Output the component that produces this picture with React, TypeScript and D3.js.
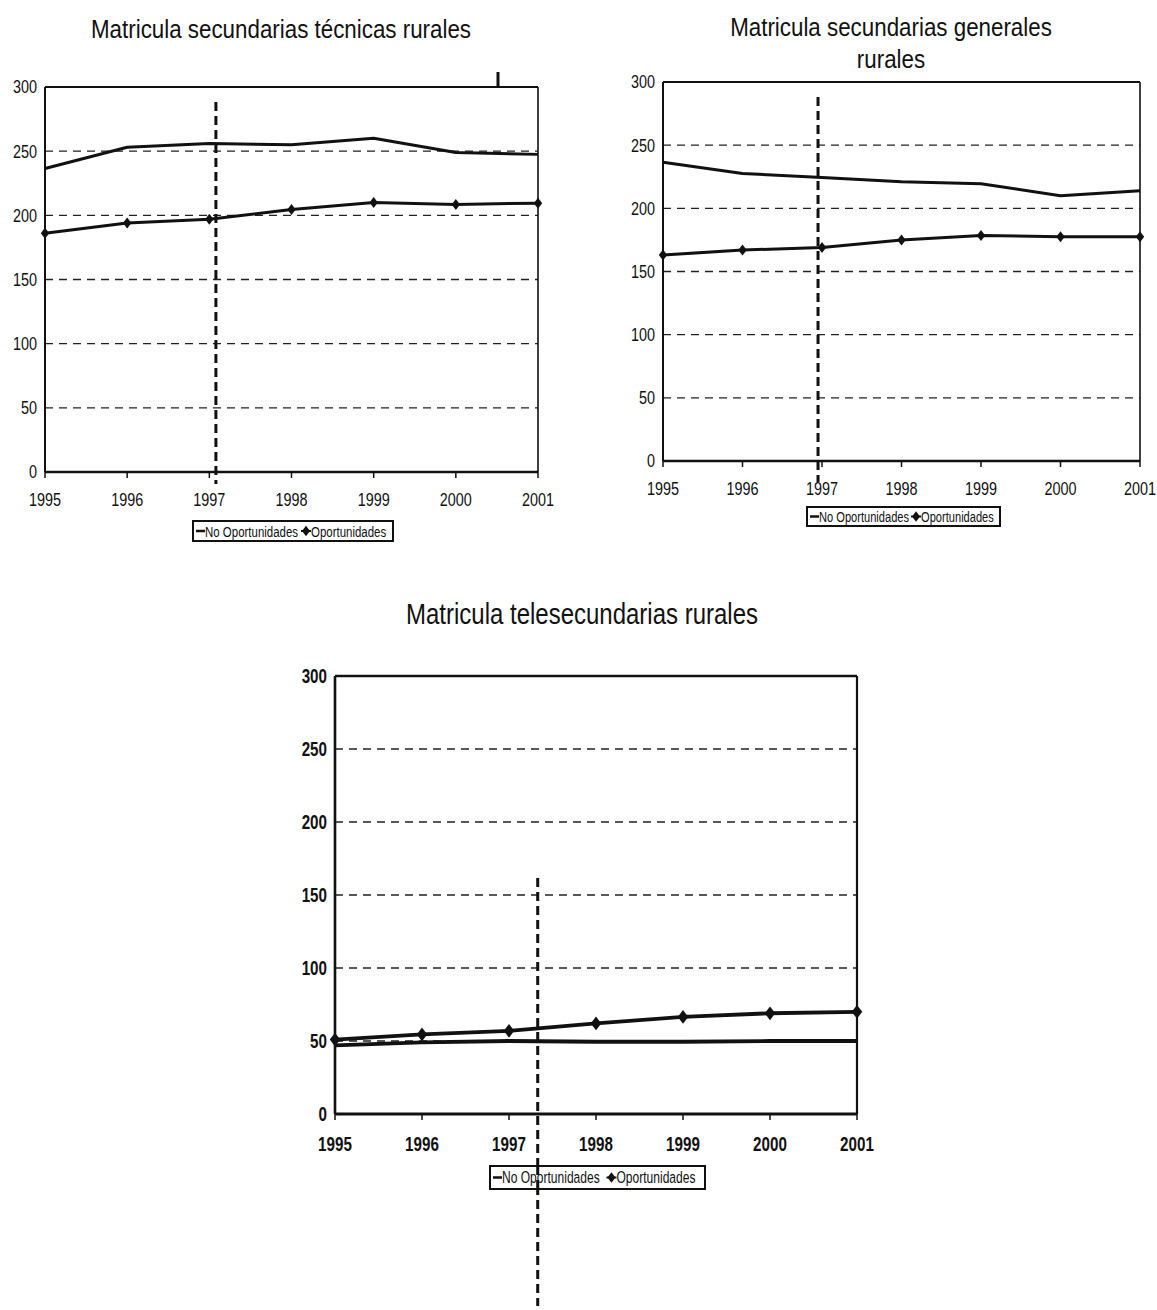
import React from 'react';
import * as d3 from 'd3';

const years = [1995, 1996, 1997, 1998, 1999, 2000, 2001];
const yTicks = [0, 50, 100, 150, 200, 250, 300];
const gridTicks = [50, 100, 150, 200, 250];
const legendLabels = ['No Oportunidades', 'Oportunidades'];

const tecnicasNo = [236.5, 253, 256, 255, 260, 249, 247.5];
const tecnicasOp = [186, 194, 197, 204.5, 210, 208.5, 209.5];
const generalesNo = [236.5, 227.5, 224.5, 221, 219.5, 210, 214];
const generalesOp = [163, 167, 169, 175, 178.5, 177.5, 177.5];
const teleNo = [47, 49, 50, 49.5, 49.5, 50, 50];
const teleOp = [51, 54.5, 57, 62, 66.5, 69, 70];
const programStart = [1997.08, 1996.95, 1997.33];

const titleTecnicas = ['Matricula secundarias técnicas rurales'];
const titleGenerales = ['Matricula secundarias generales', 'rurales'];
const titleTele = ['Matricula telesecundarias rurales'];

const FONT = "'Liberation Sans', Arial, sans-serif";

function NText(props: { x: number; y: number; anchor?: string; size: number; sx: number; weight?: string; children: any }) {
  return (
    <text transform={`translate(${props.x},${props.y}) scale(${props.sx},1)`} textAnchor={props.anchor || 'start'}
      fontFamily={FONT} fontSize={props.size} fontWeight={props.weight || 'normal'} fill="#111">{props.children}</text>
  );
}

type PanelProps = {
  title: string[];
  titleX: number;
  titleY: number[];
  titleSize: number; titleSx: number;
  x0: number; x1: number; yTop: number; yBottom: number;
  noData: number[]; opData: number[];
  vYear: number; vTop: number; vBottom: number;
  legendX: number; legendY: number; legendW: number; legendH: number; legendSize: number; legendSx: number;
  tickSize: number; tickSx: number; bold: boolean; labelOffset: number; lineW: number; frameW: number; markerScale: number;
};

function Panel(p: PanelProps) {
  const x = d3.scaleLinear().domain([1995, 2001]).range([p.x0, p.x1]);
  const y = d3.scaleLinear().domain([0, 300]).range([p.yBottom, p.yTop]);
  const line = d3.line<number>().x((_, i) => x(years[i])).y(d => y(d));
  const weight = p.bold ? 'bold' : 'normal';
  const diamond = 'M0,-5.5L4.2,0L0,5.5L-4.2,0Z';
  const lx = p.legendX;
  const ly = p.legendY + p.legendH / 2;
  const second = lx + p.legendW * 0.565;
  return (
    <g>
      {p.title.map((t, i) => (
        <NText key={i} x={p.titleX} y={p.titleY[i]} anchor="middle" size={p.titleSize} sx={p.titleSx}>{t}</NText>
      ))}
      {gridTicks.map(v => (
        <line key={v} x1={p.x0} x2={p.x1} y1={y(v)} y2={y(v)} stroke="#222" strokeWidth={1.4} strokeDasharray="8,6" />
      ))}
      <line x1={p.x0} x2={p.x1} y1={y(300)} y2={y(300)} stroke="#111" strokeWidth={p.frameW} />
      <line x1={p.x1} x2={p.x1} y1={y(300)} y2={y(0)} stroke="#111" strokeWidth={p.frameW - 0.4} />
      <line x1={p.x0} x2={p.x0} y1={y(300)} y2={y(0)} stroke="#111" strokeWidth={p.frameW} />
      <line x1={p.x0} x2={p.x1} y1={y(0)} y2={y(0)} stroke="#111" strokeWidth={p.frameW + 0.5} />
      {years.map(yr => (
        <g key={yr}>
          <line x1={x(yr)} x2={x(yr)} y1={y(0)} y2={y(0) + 6} stroke="#111" strokeWidth={1.5} />
          <NText x={x(yr)} y={y(0) + p.labelOffset} anchor="middle" size={p.tickSize} sx={p.tickSx} weight={weight}>{yr}</NText>
        </g>
      ))}
      {yTicks.map(v => (
        <NText key={v} x={p.x0 - 8} y={y(v) + p.tickSize * 0.36} anchor="end" size={p.tickSize} sx={p.tickSx} weight={weight}>{v}</NText>
      ))}
      <path d={line(p.noData) || ''} fill="none" stroke="#111" strokeWidth={p.lineW} strokeLinejoin="round" />
      <path d={line(p.opData) || ''} fill="none" stroke="#111" strokeWidth={p.lineW} strokeLinejoin="round" />
      {p.opData.map((d, i) => (
        <path key={i} d={diamond} transform={`translate(${x(years[i])},${y(d)}) scale(${p.markerScale})`} fill="#111" />
      ))}
      <line x1={x(p.vYear)} x2={x(p.vYear)} y1={p.vTop} y2={p.vBottom} stroke="#111" strokeWidth={3} strokeDasharray="9,5" />
      <rect x={p.legendX} y={p.legendY} width={p.legendW} height={p.legendH} fill="#fff" stroke="#111" strokeWidth={2} />
      <line x1={lx + 3} x2={lx + 12} y1={ly} y2={ly} stroke="#111" strokeWidth={2.5} />
      <NText x={lx + 12} y={ly + p.legendSize * 0.36} size={p.legendSize} sx={p.legendSx}>{legendLabels[0]}</NText>
      <line x1={second - 5} x2={second + 5} y1={ly} y2={ly} stroke="#111" strokeWidth={2} />
      <path d={diamond} transform={`translate(${second},${ly}) scale(0.95)`} fill="#111" />
      <NText x={second + 5} y={ly + p.legendSize * 0.36} size={p.legendSize} sx={p.legendSx}>{legendLabels[1]}</NText>
      {p.vYear > 1997.2 && (
        <line x1={x(p.vYear)} x2={x(p.vYear)} y1={p.legendY} y2={p.legendY + p.legendH} stroke="#111" strokeWidth={3} strokeDasharray="9,5" />
      )}
    </g>
  );
}

export default function App() {
  return (
    <svg width={1157} height={1310} style={{ position: 'absolute', left: 0, top: 0, background: '#fff' }}>
      <rect width={1157} height={1310} fill="#fff" />
      <Panel title={titleTecnicas} titleX={281} titleY={[38]} titleSize={26} titleSx={0.86}
        x0={45} x1={538} yTop={87} yBottom={472}
        noData={tecnicasNo} opData={tecnicasOp}
        vYear={programStart[0]} vTop={102} vBottom={484}
        legendX={193} legendY={521} legendW={200} legendH={20} legendSize={15.5} legendSx={0.74}
        tickSize={18} tickSx={0.8} bold={false} labelOffset={34} lineW={3} frameW={2} markerScale={1} />
      <line x1={498} x2={498} y1={72} y2={87} stroke="#111" strokeWidth={3} />
      <Panel title={titleGenerales} titleX={891} titleY={[36, 68]} titleSize={26} titleSx={0.86}
        x0={663} x1={1140} yTop={82} yBottom={461}
        noData={generalesNo} opData={generalesOp}
        vYear={programStart[1]} vTop={97} vBottom={482}
        legendX={807} legendY={507} legendW={193} legendH={19} legendSize={15} legendSx={0.74}
        tickSize={18} tickSx={0.8} bold={false} labelOffset={34} lineW={3} frameW={2} markerScale={1} />
      <Panel title={titleTele} titleX={582} titleY={[624]} titleSize={30} titleSx={0.8}
        x0={335} x1={857} yTop={676} yBottom={1114}
        noData={teleNo} opData={teleOp}
        vYear={programStart[2]} vTop={878} vBottom={1306}
        legendX={490} legendY={1166} legendW={215} legendH={23} legendSize={16.5} legendSx={0.73}
        tickSize={20} tickSx={0.76} bold={true} labelOffset={37} lineW={3.8} frameW={2.6} markerScale={1.25} />
    </svg>
  );
}
